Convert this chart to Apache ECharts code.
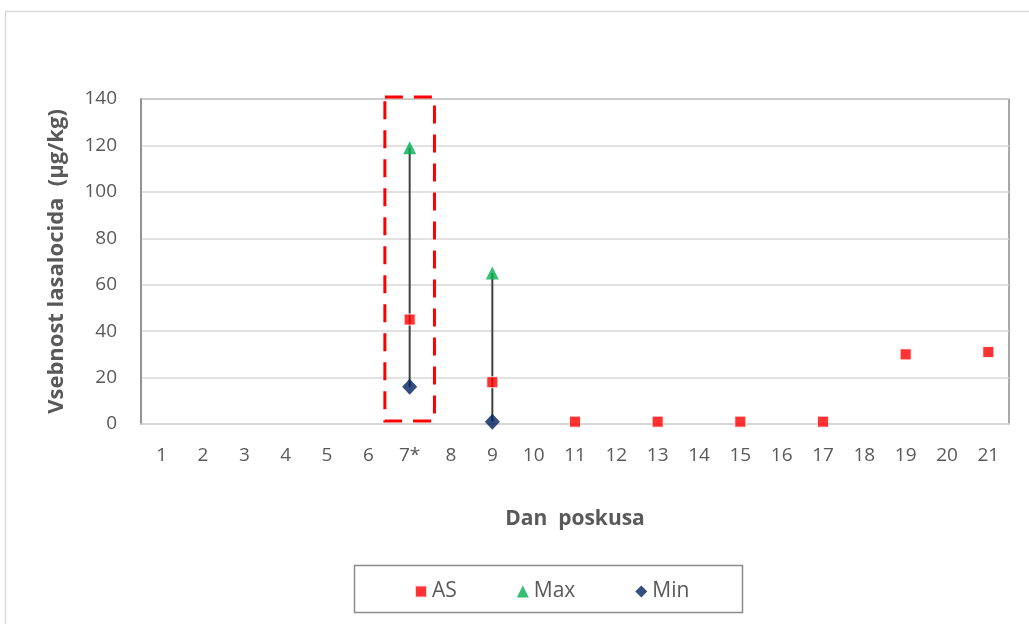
<!DOCTYPE html>
<html>
<head>
<meta charset="utf-8">
<script src="https://cdn.jsdelivr.net/npm/echarts@6/dist/echarts.min.js"></script>
<style>
html,body{margin:0;padding:0;background:#fff;}
#c{width:1029px;height:624px;}
</style>
</head>
<body>
<div id="c"></div>
<script>
const days = ['1','2','3','4','5','6','7*','8','9','10','11','12','13','14','15','16','17','18','19','20','21'];
const asValues = [null,null,null,null,null,null,45,null,18,null,1,null,1,null,1,null,1,null,30,null,31];
const maxValues = [null,null,null,null,null,null,119,null,65,null,null,null,null,null,null,null,null,null,null,null,null];
const minValues = [null,null,null,null,null,null,16,null,1,null,null,null,null,null,null,null,null,null,null,null,null];
const highlightedDay = '7*';
const yTicks = [0,20,40,60,80,100,120,140];

const rangeData = [];
days.forEach((d,i)=>{ if(maxValues[i]!=null && minValues[i]!=null) rangeData.push([i, minValues[i], maxValues[i]]); });

const FONT = '"Open Sans", Lato, sans-serif';
const chart = echarts.init(document.getElementById('c'), null, {renderer:'canvas'});
chart.setOption({
  animation:false,
  backgroundColor:'#fff',
  graphic:[
    {type:'rect', shape:{x:5.5,y:11.5,width:1040,height:640}, style:{fill:'none',stroke:'#d9d9d9',lineWidth:1.5}, silent:true, z:-10},
    {type:'rect', shape:{x:354.5,y:565.5,width:388,height:47}, style:{fill:'none',stroke:'#8c8c8c',lineWidth:1.5}, silent:true}
  ],
  grid:{left:141,right:20,top:99,bottom:200,show:true,borderColor:'#8c8c8c',borderWidth:1.5},
  legend:{
    left:409, top:576, itemGap:60, itemWidth:12, itemHeight:12,
    data:[{name:'AS',icon:'rect'},{name:'Max',icon:'triangle'},{name:'Min',icon:'diamond'}],
    textStyle:{fontFamily:FONT,fontSize:21,color:'#595959'}
  },
  xAxis:{
    type:'category', data:days, boundaryGap:true,
    name:'Dan  poskusa', nameLocation:'middle', nameGap:85,
    nameTextStyle:{fontFamily:FONT,fontSize:21,fontWeight:'bold',color:'#595959'},
    axisLine:{show:true,lineStyle:{color:'#d9d9d9',width:1.5}},
    axisTick:{show:false},
    axisLabel:{fontFamily:FONT,fontSize:19,color:'#595959',margin:22}
  },
  yAxis:{
    type:'value', min:yTicks[0], max:yTicks[yTicks.length-1], interval:20,
    name:'Vsebnost lasalocida  (µg/kg)', nameLocation:'middle', nameGap:73,
    nameTextStyle:{fontFamily:FONT,fontSize:22,fontWeight:'bold',color:'#595959'},
    axisLine:{show:true,lineStyle:{color:'#8c8c8c',width:1.5}},
    axisTick:{show:false},
    axisLabel:{fontFamily:FONT,fontSize:19,color:'#595959',margin:24},
    splitLine:{show:true,lineStyle:{color:'#d9d9d9',width:1.5}}
  },
  series:[
    {
      type:'custom', name:'range', silent:true, z:1,
      data:rangeData,
      renderItem:function(params, api){
        const p1 = api.coord([api.value(0), api.value(1)]);
        const p2 = api.coord([api.value(0), api.value(2)]);
        return {type:'line', shape:{x1:p1[0],y1:p1[1],x2:p2[0],y2:p2[1]}, style:{stroke:'#404040',lineWidth:2}};
      }
    },
    {
      type:'custom', name:'box', silent:true, z:5,
      data:[[days.indexOf(highlightedDay), yTicks[0], yTicks[yTicks.length-1]]],
      renderItem:function(params, api){
        const top = api.coord([api.value(0), api.value(2)]);
        const bot = api.coord([api.value(0), api.value(1)]);
        const bw = api.size([1,0])[0];
        const x0 = top[0] - bw*0.6;
        return {type:'rect', shape:{x:x0, y:top[1]-2, width:bw*1.2, height:bot[1]-top[1]-1},
          style:{fill:'none',stroke:'#ff0000',lineWidth:3,lineDash:[18,11]}};
      }
    },
    {type:'scatter', name:'AS', data:asValues, symbol:'rect', symbolSize:11, z:3,
      itemStyle:{color:'#ff0000',borderColor:'#fff',borderWidth:1}},
    {type:'scatter', name:'Max', data:maxValues, symbol:'triangle', symbolSize:13, z:3,
      itemStyle:{color:'#00b050'}},
    {type:'scatter', name:'Min', data:minValues, symbol:'diamond', symbolSize:[15,16], z:3,
      itemStyle:{color:'#002060'}}
  ]
});
</script>
</body>
</html>
